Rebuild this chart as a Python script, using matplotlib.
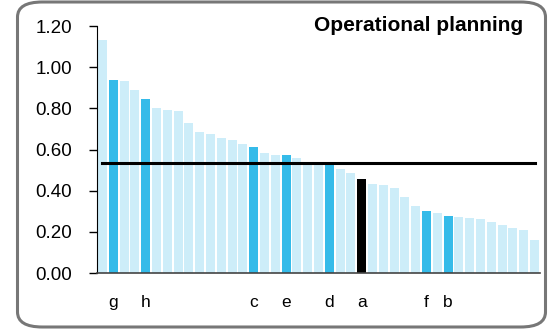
import matplotlib
matplotlib.use("Agg")
import matplotlib.pyplot as plt
from matplotlib.patches import FancyBboxPatch

plt.rcParams["font.family"] = ["Liberation Sans", "DejaVu Sans"]

# bar values, sorted descending
values = [1.13, 0.94, 0.934, 0.89, 0.846, 0.802, 0.793, 0.788, 0.73, 0.686,
          0.676, 0.657, 0.647, 0.627, 0.613, 0.584, 0.574, 0.574, 0.559, 0.535,
          0.527, 0.527, 0.506, 0.486, 0.457, 0.433, 0.428, 0.413, 0.37, 0.326,
          0.302, 0.292, 0.277, 0.272, 0.267, 0.263, 0.248, 0.233, 0.219, 0.209,
          0.16]
# highlighted bars: index -> label
labels = {1: "g", 4: "h", 14: "c", 17: "e", 21: "d", 24: "a", 30: "f", 32: "b"}
average = 0.535
title = "Operational planning"
yticks = [0.0, 0.2, 0.4, 0.6, 0.8, 1.0, 1.2]

light = "#cdedf9"
blue = "#35bbe9"

colors = []
for i in range(len(values)):
    if labels.get(i) == "a":
        colors.append("black")
    elif i in labels:
        colors.append(blue)
    else:
        colors.append(light)

fig = plt.figure(figsize=(5.52, 3.34), dpi=100)
ax = fig.add_axes([0.1757, 0.1826, 0.8026, 0.7395])

x = list(range(len(values)))
ax.bar(x, values, width=0.84, color=colors, zorder=1)
ax.plot([x[0], x[-1]], [average, average], color="black", lw=2.2, zorder=3)

ax.set_xlim(-0.51, len(values) - 0.49)
ax.set_ylim(0, 1.2)
ax.set_yticks(yticks)
ax.set_yticklabels([f"{v:.2f}" for v in yticks], fontsize=13.5)
ax.tick_params(axis="y", direction="out", length=6, width=1, pad=12, colors="black")
ax.set_xticks([])

for sp in ["top", "right"]:
    ax.spines[sp].set_visible(False)
ax.spines["left"].set_color("black")
ax.spines["bottom"].set_color("#444444")
ax.spines["bottom"].set_linewidth(1.2)

for i, lab in labels.items():
    ax.text(i, -0.145, lab, ha="center", va="center", fontsize=12.5)

ax.text(0.962, 1.002, title, transform=ax.transAxes, ha="right", va="center",
        fontsize=15, fontweight="bold")

# rounded frame around the whole chart
box = FancyBboxPatch((17.5 / 552, 7 / 334), (545.5 - 17.5) / 552, (332 - 7) / 334,
                     boxstyle="round,pad=0,rounding_size=0.045",
                     transform=fig.transFigure, fill=False,
                     edgecolor="#777777", linewidth=2.2)
box.set_clip_on(False)
fig.patches.append(box)

fig.savefig("out.png", dpi=100)
